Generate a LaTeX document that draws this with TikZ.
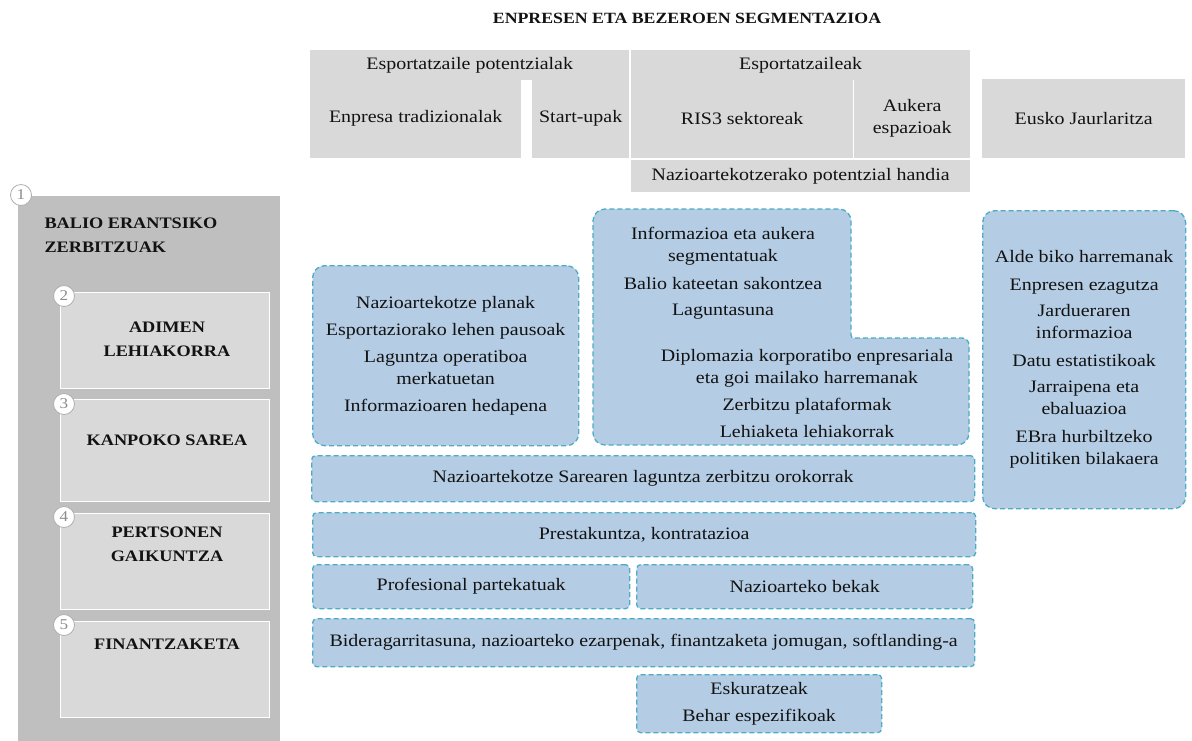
\documentclass[tikz,border=0pt]{standalone}
\usepackage{fontspec}
\setmainfont{Liberation Serif}[FakeStretch=1.14]
\definecolor{hdrgray}{HTML}{D9D9D9}
\definecolor{panelgray}{HTML}{BFBFBF}
\definecolor{svcblue}{HTML}{B4CCE4}
\definecolor{svcline}{HTML}{4BACC6}
\definecolor{numgray}{HTML}{8C8C8C}
\definecolor{ink}{HTML}{121212}
\tikzset{
  body/.style={text=ink, font=\fontsize{17.5}{22}\selectfont, align=center},
  hdrcell/.style={body, fill=hdrgray, anchor=north west, inner sep=0pt},
  areabox/.style={fill=hdrgray, draw=white, line width=1.2pt, anchor=north west, inner sep=0pt},
  areatext/.style={text=ink, font=\fontsize{16}{24}\selectfont\bfseries, align=center},
  svc/.style={body, fill=svcblue, draw=svcline, dash pattern=on 5pt off 3pt, line width=1.3pt, rounded corners=4pt, anchor=north west, inner sep=0pt},
  numdot/.style={circle, fill=white, draw=numgray!70, line width=0.8pt, minimum size=21pt, inner sep=0pt, text=numgray, font=\fontsize{15}{15}\selectfont},
}
\begin{document}
\begin{tikzpicture}[x=1pt,y=-1pt]
\useasboundingbox (0,0) rectangle (1192,740);
\node[text=ink, font=\fontsize{15.6}{18}\selectfont\bfseries] (title) at (687,18) {ENPRESEN ETA BEZEROEN SEGMENTAZIOA};

\node[hdrcell, minimum width=319pt, minimum height=30pt] (potband) at (310,50) {Esportatzaile potentzialak};
\node[hdrcell, minimum width=211pt, minimum height=79pt] (trad) at (310,79) {Enpresa tradizionalak};
\node[hdrcell, minimum width=97pt, minimum height=79pt] (startup) at (532,79) {Start-upak};
\node[hdrcell, minimum width=339pt, minimum height=30pt] (expband) at (631,50) {Esportatzaileak};
\node[hdrcell, minimum width=222pt, minimum height=79pt] (ris) at (631,79) {RIS3 sektoreak};
\node[hdrcell, minimum width=116pt, minimum height=79pt] (aukera) at (854,79) {Aukera\\espazioak};
\node[hdrcell, minimum width=339pt, minimum height=32pt] (handia) at (631,160) {Nazioartekotzerako potentzial handia};
\node[hdrcell, minimum width=203pt, minimum height=79pt] (eusko) at (982,79) {Eusko Jaurlaritza};

\node[fill=panelgray, anchor=north west, minimum width=262pt, minimum height=545pt, inner sep=0pt] (panel) at (18,196) {};
\node[areatext, anchor=west, align=left] (balio) at (41,235) {BALIO ERANTSIKO\\ZERBITZUAK};
\node[areabox, minimum width=209pt, minimum height=96pt] (adimen) at (60,292) {};
\node[areabox, minimum width=209pt, minimum height=102pt] (kanpo) at (60,399) {};
\node[areabox, minimum width=209pt, minimum height=96pt] (pertsona) at (60,513) {};
\node[areabox, minimum width=209pt, minimum height=96pt] (finantza) at (60,621) {};
\node[areatext] (adimentxt) at (167,339.5) {ADIMEN\\LEHIAKORRA};
\node[areatext] (kanpotxt) at (167,440) {KANPOKO SAREA};
\node[areatext] (pertsonatxt) at (167,544) {PERTSONEN\\GAIKUNTZA};
\node[areatext] (finantzatxt) at (167,644) {FINANTZAKETA};
\node[numdot] (n1) at (21,195) {1};
\node[numdot] (n2) at (64,296) {2};
\node[numdot] (n3) at (64,404) {3};
\node[numdot] (n4) at (64,517) {4};
\node[numdot] (n5) at (64,625) {5};

\node[svc, rounded corners=12pt, minimum width=266pt, minimum height=180pt] (planak) at (312,265)
  {Nazioartekotze planak\\[5pt]Esportaziorako lehen pausoak\\[5pt]Laguntza operatiboa\\merkatuetan\\[5pt]Informazioaren hedapena};
\path[fill=svcblue, draw=svcline, dash pattern=on 5pt off 3pt, line width=1.3pt]
  (593,330) [rounded corners=12pt] -- (593,209) -- (851,209) [rounded corners=3pt] -- (851,338) [rounded corners=7pt] -- (969,338) [rounded corners=12pt] -- (969,445) -- (593,445) -- cycle;
\node[body] (aukerainfo) at (723,273.5) {Informazioa eta aukera\\segmentatuak\\[6pt]Balio kateetan sakontzea\\[4pt]Laguntasuna};
\node[body] (diplomazia) at (807,393.5) {Diplomazia korporatibo enpresariala\\eta goi mailako harremanak\\[5pt]Zerbitzu plataformak\\[5pt]Lehiaketa lehiakorrak};
\node[svc, rounded corners=12pt, minimum width=203pt, minimum height=298pt] (aldebiko) at (982,210)
  {Alde biko harremanak\\[6pt]Enpresen ezagutza\\[4pt]Jardueraren\\informazioa\\[6pt]Datu estatistikoak\\[4pt]Jarraipena eta\\ebaluazioa\\[6pt]EBra hurbiltzeko\\politiken bilakaera};

\node[svc, minimum width=663pt, minimum height=46pt] (sarea) at (311,455) {Nazioartekotze Sarearen laguntza zerbitzu orokorrak};
\node[svc, minimum width=663pt, minimum height=44pt] (presta) at (312,512) {Prestakuntza, kontratazioa};
\node[svc, minimum width=317pt, minimum height=44pt] (profesional) at (312,564) {Profesional partekatuak};
\node[svc, minimum width=336pt, minimum height=44pt] (bekak) at (636,564) {Nazioarteko bekak};
\node[svc, minimum width=662pt, minimum height=48pt] (bidera) at (312,618) {Bideragarritasuna, nazioarteko ezarpenak, finantzaketa jomugan, softlanding-a};
\node[svc, minimum width=245pt, minimum height=58pt] (eskura) at (636,674) {Eskuratzeak\\[5pt]Behar espezifikoak};
\end{tikzpicture}
\end{document}
